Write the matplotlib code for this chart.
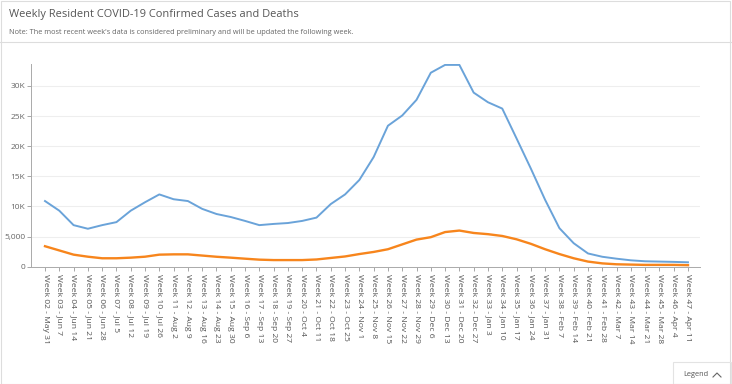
import matplotlib
matplotlib.use("Agg")
import matplotlib.pyplot as plt
from matplotlib.lines import Line2D
from matplotlib.patches import Rectangle
from matplotlib.ticker import FuncFormatter

plt.rcParams['font.family'] = ['Open Sans', 'DejaVu Sans']

# week labels (x categories)
weeks = ["Week 02 - May 31", "Week 03 - Jun 7", "Week 04 - Jun 14", "Week 05 - Jun 21",
         "Week 06 - Jun 28", "Week 07 - Jul 5", "Week 08 - Jul 12", "Week 09 - Jul 19",
         "Week 10 - Jul 26", "Week 11 - Aug 2", "Week 12 - Aug 9", "Week 13 - Aug 16",
         "Week 14 - Aug 23", "Week 15 - Aug 30", "Week 16 - Sep 6", "Week 17 - Sep 13",
         "Week 18 - Sep 20", "Week 19 - Sep 27", "Week 20 - Oct 4", "Week 21 - Oct 11",
         "Week 22 - Oct 18", "Week 23 - Oct 25", "Week 24 - Nov 1", "Week 25 - Nov 8",
         "Week 26 - Nov 15", "Week 27 - Nov 22", "Week 28 - Nov 29", "Week 29 - Dec 6",
         "Week 30 - Dec 13", "Week 31 - Dec 20", "Week 32 - Dec 27", "Week 33 - Jan 3",
         "Week 34 - Jan 10", "Week 35 - Jan 17", "Week 36 - Jan 24", "Week 37 - Jan 31",
         "Week 38 - Feb 7", "Week 39 - Feb 14", "Week 40 - Feb 21", "Week 41 - Feb 28",
         "Week 42 - Mar 7", "Week 43 - Mar 14", "Week 44 - Mar 21", "Week 45 - Mar 28",
         "Week 46 - Apr 4", "Week 47 - Apr 11"]

# confirmed cases (blue)
cases = [10900, 9300, 6900, 6300, 6900, 7400, 9300, 10700, 12000, 11200,
         10900, 9600, 8750, 8250, 7600, 6900, 7100, 7250, 7600, 8150,
         10400, 12000, 14400, 18200, 23400, 25100, 27700, 32200, 33500, 33500,
         28900, 27300, 26250, 21300, 16300, 11100, 6400, 3900, 2200, 1650,
         1330, 1060, 900, 850, 800, 730]

# deaths (orange)
deaths = [3400, 2700, 2000, 1660, 1400, 1400, 1500, 1660, 2000, 2050,
          2050, 1850, 1650, 1500, 1330, 1170, 1100, 1100, 1100, 1200,
          1450, 1700, 2100, 2450, 2900, 3700, 4500, 4900, 5750, 6000,
          5600, 5400, 5100, 4550, 3800, 2900, 2100, 1400, 850, 550,
          400, 350, 300, 300, 300, 250]

W, H = 732, 384
fig = plt.figure(figsize=(W / 100, H / 100), dpi=100)

ax = fig.add_axes([31 / W, 1 - 266.7 / H, (700 - 31) / W, (266.7 - 64) / H])
x = list(range(len(weeks)))
ax.plot(x, cases, color="#6aa3d9", lw=1.4, solid_joinstyle="round")
ax.plot(x, deaths, color="#f7851c", lw=1.7, solid_joinstyle="round")

ax.set_xlim(-0.98, 45.84)
ax.set_ylim(0, 33650)
ax.set_yticks([0, 5000, 10000, 15000, 20000, 25000, 30000])

def yfmt(v, pos):
    if v == 0:
        return "0"
    if v < 10000:
        return f"{int(v):,}"
    return f"{int(v / 1000)}K"

ax.yaxis.set_major_formatter(FuncFormatter(yfmt))
ax.set_xticks(x)
ax.set_xticklabels(weeks, rotation=270, fontsize=6.1, color="#555555")
ax.tick_params(axis="x", length=3, width=0.6, color="#999999", pad=2)
ax.tick_params(axis="y", length=3, width=0.6, color="#999999", labelsize=6, labelcolor="#666666", pad=1)
ax.grid(axis="y", color="#eeeeee", lw=0.8)
ax.set_axisbelow(True)
for s in ["top", "right"]:
    ax.spines[s].set_visible(False)
for s in ["left", "bottom"]:
    ax.spines[s].set_color("#aaaaaa")
    ax.spines[s].set_linewidth(0.7)

# header
fig.text(9 / W, 1 - 15 / H, "Weekly Resident COVID-19 Confirmed Cases and Deaths",
         fontsize=7.9, color="#555555", va="center", ha="left")
fig.text(9 / W, 1 - 32 / H,
         "Note: The most recent week's data is considered preliminary and will be updated the following week.",
         fontsize=5.3, color="#666666", va="center", ha="left")
fig.add_artist(Line2D([0, 1], [1 - 42 / H, 1 - 42 / H], color="#dddddd", lw=0.8))

# outer frame
fig.add_artist(Rectangle((0.5 / W, 0.5 / H), (W - 2.5) / W, (H - 1) / H, fill=False,
                         ec="#dddddd", lw=0.8))

# legend toggle box
fig.add_artist(Rectangle((673 / W, 0.5 / H), (W - 674) / W, 22 / H, fill=False,
                         ec="#e3e3e3", lw=0.8))
fig.text(683 / W, 1 - 374 / H, "Legend", fontsize=5.3, color="#555555", va="center", ha="left")
fig.add_artist(Line2D([713 / W, 717 / W, 721 / W], [1 - 377 / H, 1 - 373 / H, 1 - 377 / H],
                      color="#666666", lw=0.8))

fig.savefig("out.png", dpi=100)
